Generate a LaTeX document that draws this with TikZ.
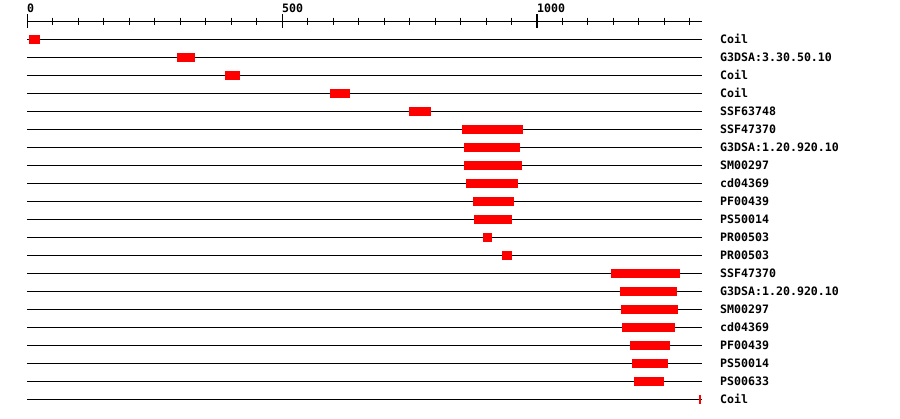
\documentclass[tikz,border=0pt]{standalone}
\usepackage{fontspec}
\setmonofont{DejaVu Sans Mono}

\tikzstyle{track} = [line width=1pt, black]
\tikzstyle{hit} = [fill=red, draw=none]
\tikzstyle{lbl} = [font=\ttfamily\bfseries\fontsize{11.6}{12}\selectfont, anchor=base west, inner sep=0pt]

\begin{document}
\begin{tikzpicture}[x=1pt, y=-1pt]
\useasboundingbox (0,0) rectangle (900,418);
%begin axis
\draw[track] (27,21) -- (702,21);
\foreach \t in {0,50,...,1300}
    \draw[track] ({27+0.51*\t},17.5) -- ({27+0.51*\t},24.5);
\foreach \t in {0,500,1000} {
    \draw[track] ({27+0.51*\t},14) -- ({27+0.51*\t},28);
    \node[lbl] (tick\t) at ({27+0.51*\t},12) {\t};
}
%end axis
%begin tracks
\foreach \a/\b/\name [count=\i] in {
    4/25/Coil,
    294/329/G3DSA:3.30.50.10,
    388/418/Coil,
    594/633/Coil,
    749/792/SSF63748,
    853/973/SSF47370,
    857/967/G3DSA:1.20.920.10,
    857/971/SM00297,
    861/963/cd04369,
    875/955/PF00439,
    876/951/PS50014,
    894/912/PR00503,
    931/951/PR00503,
    1145/1280/SSF47370,
    1163/1275/G3DSA:1.20.920.10,
    1165/1276/SM00297,
    1167/1271/cd04369,
    1182/1261/PF00439,
    1186/1257/PS50014,
    1190/1249/PS00633,
    1318/1322/Coil} {
    \pgfmathsetmacro{\y}{21.3+18*\i}
    \draw[track] (27,\y) -- (702,\y);
    \fill[hit] ({27+0.51*\a},\y-4.5) rectangle ({27+0.51*\b},\y+4.5);
    \node[lbl] (name\i) at (720,\y+4) {\name};
}
%end tracks
\end{tikzpicture}
\end{document}
